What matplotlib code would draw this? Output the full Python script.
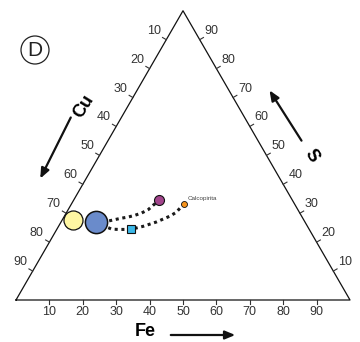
import numpy as np
import matplotlib.pyplot as plt

plt.rcParams['font.family'] = ['Liberation Sans', 'DejaVu Sans']

# composition in % (Fe, S); Cu = 100 - Fe - S
ticks = [10, 20, 30, 40, 50, 60, 70, 80, 90]

pt_names = ['yellow', 'blue', 'purple', 'square', 'calcopirita']
pt_fe = [3.2, 10.5, 25.7, 22.1, 33.6]
pt_s = [27.6, 26.8, 34.5, 24.4, 33.2]

# dotted paths
path1_fe = [10.5, 14.0, 15.7, 17.5, 19.3, 21.0, 22.6, 24.0, 24.7, 25.7]
path1_s = [26.8, 27.3, 27.8, 28.3, 28.7, 29.3, 30.1, 31.3, 32.8, 34.5]
path2_fe = [10.5, 16.4, 18.4, 22.1, 25.4, 28.6, 31.6, 32.8, 33.3, 33.6]
path2_s = [26.8, 24.5, 24.4, 24.4, 25.5, 27.0, 29.0, 30.3, 32.0, 33.2]

H = np.sqrt(3) / 2


def tern(fe, s):
    fe = np.asarray(fe, float)
    s = np.asarray(s, float)
    return fe + s / 2, s * H


fig = plt.figure(figsize=(3.6, 3.42), dpi=100)
ax = fig.add_axes([0, 0, 1, 1])
sc = 3.34  # px per unit
ax.set_xlim(-16 / sc, (360 - 16) / sc)
ax.set_ylim(-(342 - 300) / sc, 300 / sc)
ax.axis('off')

# triangle
tx, ty = tern([0, 100, 0, 0], [0, 0, 100, 0])
ax.plot(tx, ty, color='#111111', lw=0.9, zorder=1)

tl = 1.3  # tick length
tc = '#333333'
for t in ticks:
    # bottom (Fe)
    x, y = tern(t, 0)
    ax.plot([x, x], [y, y - tl], color=tc, lw=0.8)
    ax.text(x, y - 3.6, str(t), ha='center', va='center', fontsize=9, color=tc)
    # left (Cu), Fe = 0, S = 100 - Cu
    x, y = tern(0, 100 - t)
    ax.plot([x, x - tl * H], [y, y + tl * 0.5], color=tc, lw=0.8)
    ax.text(x - 3.75, y + 2.7, str(t), ha='center', va='center', fontsize=9, color=tc)
    # right (S), Cu = 0
    x, y = tern(100 - t, t)
    ax.plot([x, x + tl * H], [y, y + tl * 0.5], color=tc, lw=0.8)
    ax.text(x + 3.6, y + 2.7, str(t), ha='center', va='center', fontsize=9, color=tc)

# axis titles and arrows
def px(x, y):
    return (x - 16) / sc, (300 - y) / sc

arw = dict(arrowstyle='-|>,head_length=0.6,head_width=0.25', color='#111111', lw=1.6)
ax.text(*px(145, 332), 'Fe', ha='center', va='center', fontsize=13, fontweight='bold')
ax.annotate('', xy=px(238, 335), xytext=px(168, 335), arrowprops=arw)
ax.text(*px(84, 106), 'Cu', ha='center', va='center', fontsize=13,
        fontweight='bold', rotation=58)
ax.annotate('', xy=px(39, 181), xytext=px(72, 115), arrowprops=arw)
ax.text(*px(311, 156), 'S', ha='center', va='center', fontsize=13,
        fontweight='bold', rotation=-58)
ax.annotate('', xy=px(268, 88), xytext=px(303, 143), arrowprops=arw)

# circled D
ax.text(*px(35, 50), 'D', ha='center', va='center', fontsize=15, color='#222222')
ax.add_patch(plt.Circle(px(35, 50), 14 / sc, fill=False, color='#222222', lw=0.9))

# dotted paths
for fe, s in [(path1_fe, path1_s), (path2_fe, path2_s)]:
    x, y = tern(fe, s)
    ax.plot(x, y, color='#1a1a1a', lw=2.2, dashes=(1, 1.2),
            dash_capstyle='butt', zorder=2)

# markers
x, y = tern(pt_fe, pt_s)
ax.plot(x[0], y[0], 'o', ms=13.7, mfc='#FFF7A3', mec='#111111', mew=0.9, zorder=3)
ax.plot(x[1], y[1], 'o', ms=16, mfc='#6A8BCB', mec='#111111', mew=1.1, zorder=3)
ax.plot(x[2], y[2], 'o', ms=7.2, mfc='#A2458C', mec='#111111', mew=0.8, zorder=3)
ax.plot(x[3], y[3], 's', ms=5.2, mfc='#3BB8E8', mec='#111111', mew=0.8, zorder=3)
ax.plot(x[4], y[4], 'o', ms=4.3, mfc='#F7941D', mec='#111111', mew=0.6, zorder=3)
ax.text(x[4] + 1.1, y[4] + 1.6, 'Calcopirita', fontsize=4.5, color='#444444',
        ha='left', va='center')

fig.savefig('out.png', dpi=100)
plt.close()
